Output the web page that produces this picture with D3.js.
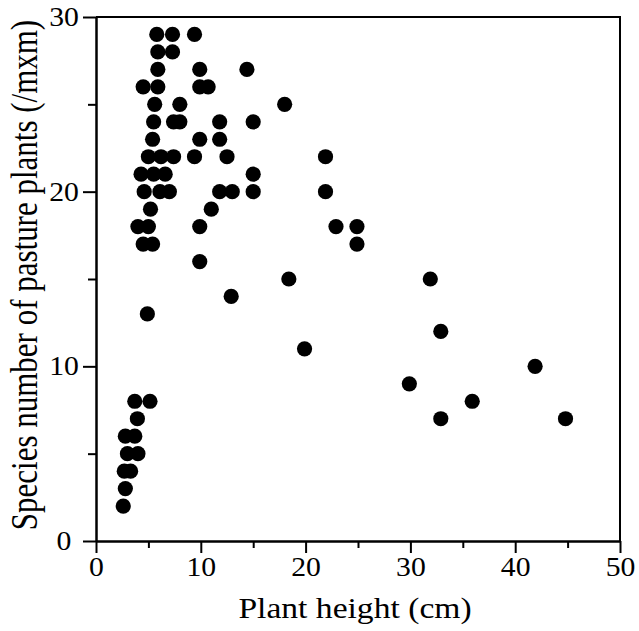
<!DOCTYPE html>
<html>
<head>
<meta charset="utf-8">
<script src="https://cdn.jsdelivr.net/npm/d3@7"></script>
<style>
  body { margin: 0; background: #fff; }
  svg text { font-family: "Liberation Serif", "Times New Roman", serif; fill: #000; }
</style>
</head>
<body>
<svg id="chart" width="639" height="631"></svg>
<script>
// plant height (cm) and species number of pasture plants
const heights = [
  2.6, 2.8, 2.7, 3.3, 3.0, 4.0, 2.8, 3.7, 3.95, 3.7, 5.15,
  4.9, 12.9, 9.9, 4.5, 5.4, 4.0, 5.0, 9.9, 5.2, 11.0,
  4.6, 6.1, 7.0, 11.8, 13.0, 15.0, 21.9,
  4.3, 5.5, 6.6, 15.0,
  5.0, 6.2, 7.4, 9.4, 12.5, 21.9,
  5.4, 9.9, 11.8,
  5.5, 7.4, 8.0, 11.8, 15.0,
  5.6, 8.0, 18.0,
  4.5, 5.9, 9.9, 10.7,
  5.9, 9.9, 14.4,
  5.9, 7.3,
  5.8, 7.3, 9.4,
  18.4, 31.9, 32.9, 19.9, 41.9, 29.9, 35.9, 32.9, 44.8, 22.9, 24.9, 24.9
];
const species = [
  2, 3, 4, 4, 5, 5, 6, 6, 7, 8, 8,
  13, 14, 16, 17, 17, 18, 18, 18, 19, 19,
  20, 20, 20, 20, 20, 20, 20,
  21, 21, 21, 21,
  22, 22, 22, 22, 22, 22,
  23, 23, 23,
  24, 24, 24, 24, 24,
  25, 25, 25,
  26, 26, 26, 26,
  27, 27, 27,
  28, 28,
  29, 29, 29,
  15, 15, 12, 11, 10, 9, 8, 7, 7, 18, 18, 17
];

const xMajor = [0, 10, 20, 30, 40, 50];
const xMinor = [5, 15, 25, 35, 45];
const yMajor = [0, 10, 20, 30];
const yMinor = [5, 15, 25];

const svg = d3.select("#chart");
const mLeft = 96, mRight = 620, mTop = 17, mBottom = 541;
const stretch = 1.1; // text in the original is a bit wide

const x = d3.scaleLinear().domain([0, 50]).range([mLeft, mRight]);
const y = d3.scaleLinear().domain([0, 30]).range([mBottom, mTop]);

// frame on top and right
svg.append("path")
  .attr("d", `M${mLeft},${mTop}H${mRight}V${mBottom}`)
  .attr("fill", "none")
  .attr("stroke", "#000")
  .attr("stroke-width", 2);

// minor ticks
svg.append("g")
  .attr("transform", `translate(0,${mBottom})`)
  .call(d3.axisBottom(x).tickValues(xMinor).tickSize(7).tickFormat(""))
  .call(g => g.select(".domain").remove());
svg.append("g")
  .attr("transform", `translate(${mLeft},0)`)
  .call(d3.axisLeft(y).tickValues(yMinor).tickSize(8).tickFormat(""))
  .call(g => g.select(".domain").remove());

// major axes
const xAxis = svg.append("g")
  .attr("transform", `translate(0,${mBottom})`)
  .call(d3.axisBottom(x).tickValues(xMajor).tickSize(12).tickSizeOuter(0).tickPadding(4));
const yAxis = svg.append("g")
  .attr("transform", `translate(${mLeft},0)`)
  .call(d3.axisLeft(y).tickValues(yMajor).tickSize(13).tickSizeOuter(0));

svg.selectAll(".tick line").attr("stroke", "#000").attr("stroke-width", 2);
svg.selectAll(".domain").attr("stroke", "#000").attr("stroke-width", 2.5);
xAxis.selectAll("text")
  .style("font-size", "27px")
  .attr("transform", `scale(${stretch},1)`);
// y labels sit centred in the margin
yAxis.selectAll("text")
  .style("font-size", "27px")
  .attr("text-anchor", "middle")
  .attr("x", -32 / stretch)
  .attr("transform", `scale(${stretch},1)`);

// points
svg.append("g")
  .selectAll("circle")
  .data(heights.map((h, i) => [h, species[i]]))
  .join("circle")
  .attr("cx", d => x(d[0]))
  .attr("cy", d => y(d[1]))
  .attr("r", 7.6)
  .attr("fill", "#000");

// axis titles
svg.append("text")
  .attr("transform", `translate(355,618) scale(1.12,1)`)
  .attr("text-anchor", "middle")
  .style("font-size", "30px")
  .text("Plant height (cm)");

svg.append("text")
  .attr("transform", `translate(37,275) rotate(-90) scale(1,1.25)`)
  .attr("text-anchor", "middle")
  .style("font-size", "31px")
  .text("Species number of pasture plants (/mxm)");
</script>
</body>
</html>
